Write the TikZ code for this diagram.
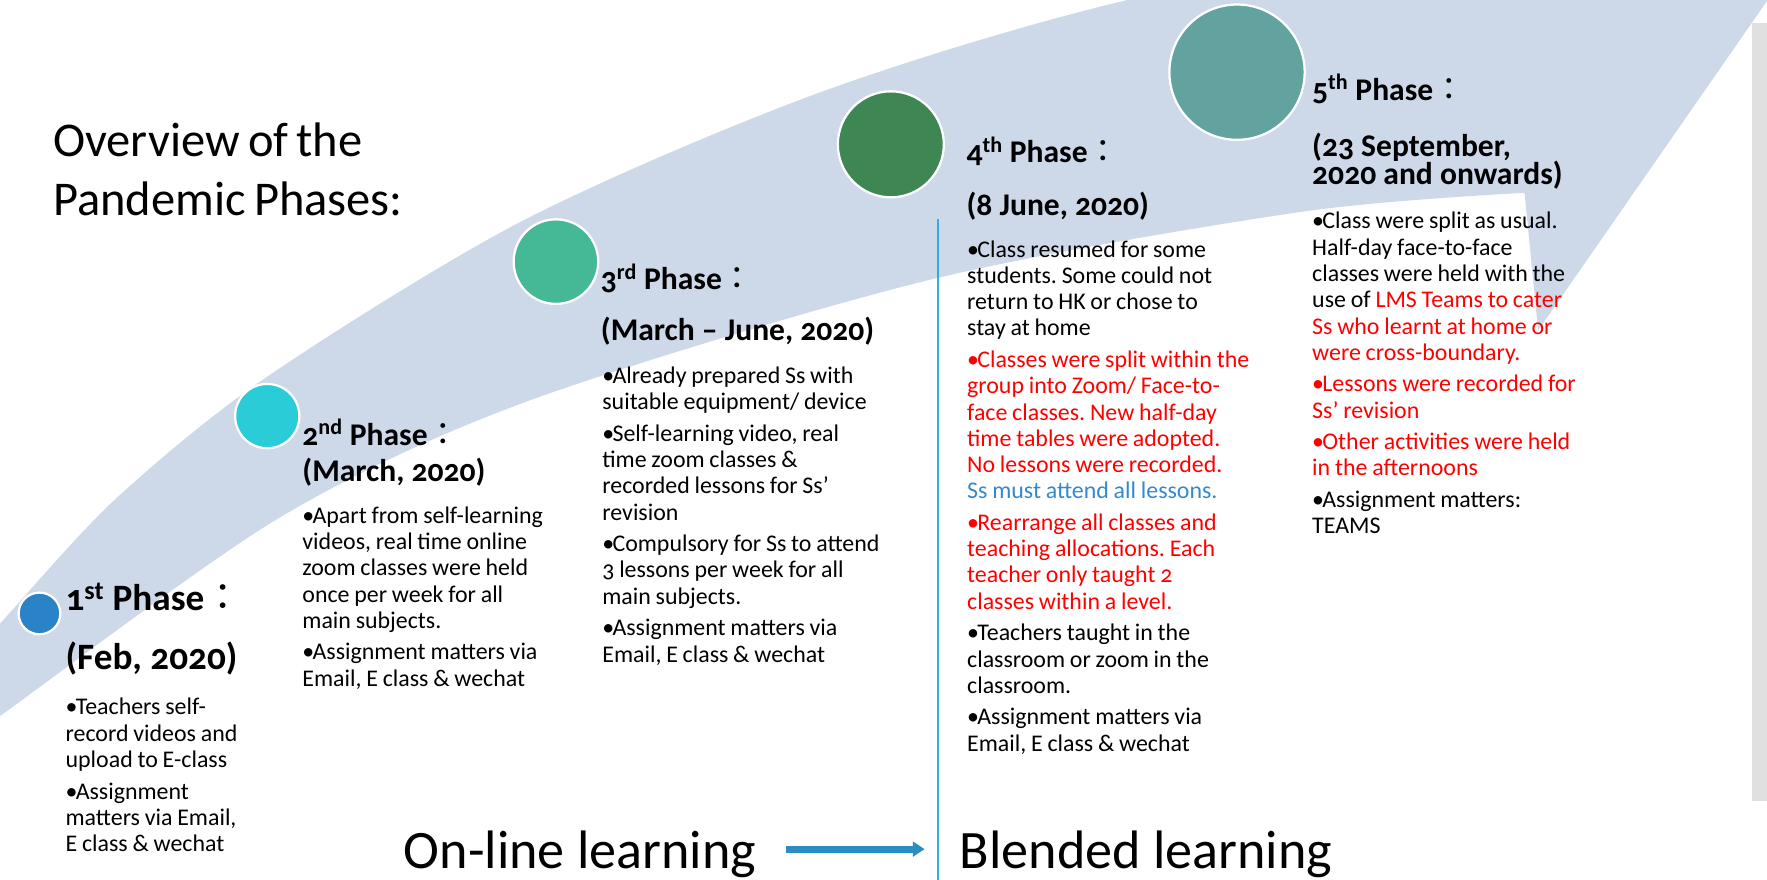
\documentclass[tikz,border=0pt]{standalone}
\usepackage{fontspec}
\setmainfont{Carlito}[Numbers=OldStyle]
\newfontfamily\cjk{Noto Sans CJK TC}
\usetikzlibrary{arrows.meta}
\definecolor{band}{HTML}{CDD8E9}
\definecolor{graybar}{HTML}{E0E0E0}
\definecolor{cA}{HTML}{2A83C7}
\definecolor{cB}{HTML}{2ACDD7}
\definecolor{cC}{HTML}{45B896}
\definecolor{cD}{HTML}{3E8752}
\definecolor{cE}{HTML}{62A39F}
\definecolor{sblue}{HTML}{3389CF}
\definecolor{vline}{HTML}{33ADE3}
\definecolor{barrow}{HTML}{2B8DC0}
\newlength{\bind}\setlength{\bind}{9pt}
\newcommand{\bli}[2][black]{\begingroup\hangindent=\bind\hangafter=1\noindent\makebox[\bind][l]{\textcolor{#1}{\textbullet}}#2\par\endgroup}
\newcommand{\phs}[2]{#1\textsuperscript{#2} Phase{\cjk\mdseries ：}}
\newcommand{\tightsp}{\spaceskip=0.17em plus 0.05em\relax}
\newcommand{\bodysp}{\spaceskip=0.2em plus 0.05em\relax}
\begin{document}
\begin{tikzpicture}[x=1pt,y=-1pt,
  dot/.style={circle, draw=white, line width=2pt, inner sep=0pt},
  hdA/.style={anchor=base west, inner sep=0pt, font=\bfseries\fontsize{33}{38}\selectfont},
  hdB/.style={anchor=base west, inner sep=0pt, font=\bfseries\fontsize{28}{33}\selectfont},
  blk/.style={anchor=base west, inner sep=0pt, text width=330pt,
    font=\fontsize{21.2}{23.3}\selectfont\raggedright\frenchspacing\setlength{\parskip}{4.7pt}},
  big/.style={anchor=base west, inner sep=0pt, font=\fontsize{48}{56}\selectfont},
]
\useasboundingbox (0,0) rectangle (1567,780);
\clip (0,0) rectangle (1567,780);
% gray bar at right
\fill[graybar] (1554,20) rectangle (1567,710);
% curved block arrow
\fill[band] plot[smooth] coordinates {(-30,585) (0,553) (102,443) (237,334) (465,195) (727,82) (1000,0) (1340,-62)}
  -- (1335,-200) -- (1578,-15) -- (1364,293) -- (1352,171)
  -- plot[smooth] coordinates {(1352,171) (1153,188) (825,248) (470,355) (248,459) (0,635) (-30,656)} -- cycle;
% title
\node[anchor=base west, inner sep=0pt, text width=400pt,
  font=\fontsize{43}{51.7}\selectfont] (title) at (47,139)
  {\tightsp Overview of the\\Pandemic Phases:};
% circles
\node[dot, fill=cA, minimum size=37pt] (c1) at (35,544) {};
\node[dot, fill=cB, minimum size=57pt] (c2) at (237,369) {};
\node[dot, fill=cC, minimum size=75pt] (c3) at (493,232) {};
\node[dot, fill=cD, minimum size=94pt] (c4) at (790,128) {};
\node[dot, fill=cE, minimum size=120pt] (c5) at (1097,64) {};
% vertical divider
\coordinate (vt) at (832,194);
\coordinate (vb) at (832,780);
\draw[vline, line width=1.6pt] (vt) -- (vb);
% phase 1
\node[hdA] (h1) at (58,541) {\phs{1}{st}};
\node[hdA] (d1) at (58,594) {(Feb, 2020)};
\node[blk] (b1) at (58,634) {\bodysp\bli{Teachers self-\\record videos and\\upload to E-class}
\bli{Assignment\\matters via Email,\\E class \& wechat}};
% phase 2
\node[hdB] (h2) at (268,394.7) {\phs{2}{nd}};
\node[hdB] (d2) at (268,427) {(March, 2020)};
\node[blk] (b2) at (268,464) {\bodysp\bli{Apart from self-learning\\videos, real time online\\zoom classes were held\\once per week for all\\main subjects.}
\bli{Assignment matters via\\Email, E class \& wechat}};
% phase 3
\node[hdB] (h3) at (532.7,256.6) {\phs{3}{rd}};
\node[hdB] (d3) at (532.7,302) {(March – June, 2020)};
\node[blk] (b3) at (534,340) {\bodysp\bli{Already prepared Ss with\\suitable equipment/ device}
\bli{Self-learning video, real\\time zoom classes \&\\recorded lessons for Ss’\\revision}
\bli{Compulsory for Ss to attend\\3 lessons per week for all\\main subjects.}
\bli{Assignment matters via\\Email, E class \& wechat}};
% phase 4
\node[hdB] (h4) at (857,144) {\phs{4}{th}};
\node[hdB] (d4) at (857,190.7) {(8 June, 2020)};
\node[blk] (b4) at (857.5,228) {\bodysp\bli{Class resumed for some\\students. Some could not\\return to HK or chose to\\stay at home}
\bli[red]{\color{red}Classes were split within the\\group into Zoom/ Face-to-\\face classes. New half-day\\time tables were adopted.\\No lessons were recorded.\\ \textcolor{sblue}{Ss must attend all lessons.}}
\bli[red]{\color{red}Rearrange all classes and\\teaching allocations. Each\\teacher only taught 2\\classes within a level.}
\bli{Teachers taught in the\\classroom or zoom in the\\classroom.}
\bli{Assignment matters via\\Email, E class \& wechat}};
% phase 5
\node[hdB] (h5) at (1163.5,88.7) {\phs{5}{th}};
\node[hdB] (d5a) at (1163.5,139) {(23 September,};
\node[hdB] (d5b) at (1163.5,164) {2020 and onwards)};
\node[blk] (b5) at (1163.5,203) {\bodysp\bli{Class were split as usual.\\Half-day face-to-face\\classes were held with the\\use of \textcolor{red}{LMS Teams to cater}\\ \textcolor{red}{Ss who learnt at home or}\\ \textcolor{red}{were cross-boundary.}}
\bli[red]{\color{red}Lessons were recorded for\\Ss’ revision}
\bli[red]{\color{red}Other activities were held\\in the afternoons}
\bli{Assignment matters:\\TEAMS}};
% bottom labels
\node[big] (online) at (358,770) {On-line learning};
\node[big] (blended) at (851,770) {Blended learning};
\coordinate (ba) at (697,753);
\coordinate (bb) at (820,753);
\draw[barrow, line width=6pt, -{Triangle[length=10.5pt,width=13pt]}] (ba) -- (bb);
\end{tikzpicture}
\end{document}
